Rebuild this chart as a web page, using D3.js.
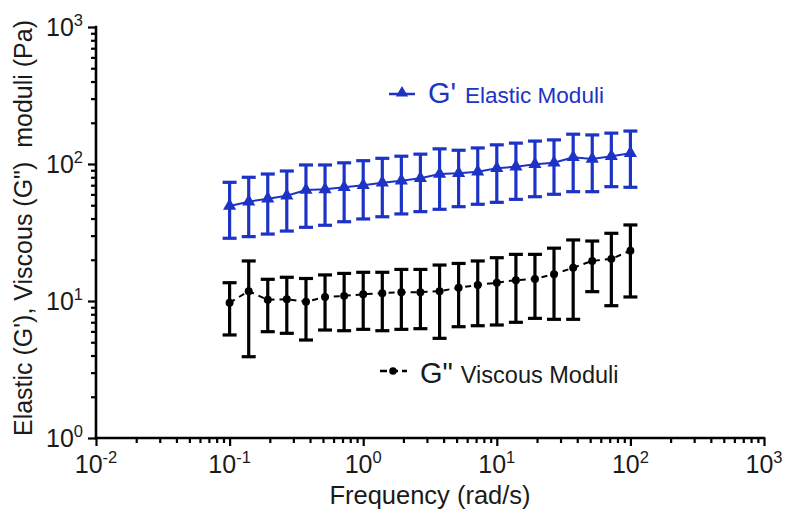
<!DOCTYPE html>
<html>
<head>
<meta charset="utf-8">
<script src="https://cdn.jsdelivr.net/npm/d3@7"></script>
<style>
html,body{margin:0;padding:0;background:#fff;}
svg{display:block;font-family:"Liberation Sans",Arial,sans-serif;}
</style>
</head>
<body>
<svg id="chart" width="787" height="517"></svg>
<script>
// ---- data ----
const frequency = [0.1,0.139,0.193,0.268,0.373,0.518,0.720,1.0,1.39,1.93,2.68,3.73,5.18,7.20,10,13.9,19.3,26.8,37.3,51.8,72.0,100];
const gElastic = [49.4,53.1,55.8,58.7,64.6,65.3,67.6,69.9,73.1,75.5,78.7,84.5,85.5,87.9,93,95.6,99.5,102,112,109,114,120];
const gElasticUpper = [73.5,80,84.5,88.9,98.4,98.4,102,105.7,110,114,118,129,126,131,138,142,147,150,165,163,168,174];
const gElasticLower = [28.7,29.5,30.8,32.4,34.5,35.7,37.9,39.7,41.2,43.2,44.9,46.7,48.8,50.8,52.5,55.2,57.7,60.1,62.8,62.8,68.3,67.6];
const gViscous = [9.72,11.8,10.2,10.3,9.88,10.7,10.9,11.2,11.4,11.6,11.6,11.8,12.5,13.1,13.6,14.2,14.5,15.7,17.5,19.6,20.3,23.3];
const gViscousUpper = [13.6,19.6,14.4,14.9,14.6,15.5,15.9,16.2,16.2,17.0,17.0,18.3,18.8,19.6,20.7,21.9,21.9,24.3,27.9,27.4,31.2,35.9];
const gViscousLower = [5.65,3.92,5.97,5.81,5.19,6.14,6.07,6.21,6.07,6.21,6.28,5.34,6.49,6.60,6.68,6.99,7.47,7.35,7.35,11.7,9.24,10.7];
const xTickExps = [-2,-1,0,1,2,3];
const yTickExps = [0,1,2,3];
const xTitle = "Frequency (rad/s)";
const yTitle = "Elastic (G'), Viscous (G\")  moduli (Pa)";
const legendElastic = ["G'", "Elastic Moduli"];
const legendViscous = ["G\"", "Viscous Moduli"];

(function(){
// ---- layout ----
const blue = "#1d33c6";
const pL = 96, pT = 27, pR = 764, pB = 438;
const svg = d3.select("#chart");
const x = d3.scaleLog().domain([1e-2, 1e3]).range([pL, pR]);
const y = d3.scaleLog().domain([1, 1e3]).range([pB, pT]);

function minors(lo, hi) {
  const out = [];
  for (let e = lo; e < hi; e++) for (let m = 2; m <= 9; m++) out.push(m * Math.pow(10, e));
  return out;
}

// axes
const gx = svg.append("g").attr("transform", `translate(0,${pB})`);
gx.call(d3.axisBottom(x).tickValues(minors(-2,3)).tickSize(5).tickFormat(""));
gx.append("g").call(d3.axisBottom(x).tickValues(xTickExps.map(e=>Math.pow(10,e))).tickSize(8).tickFormat(""));
gx.selectAll(".domain").remove();
gx.append("line").attr("x1", pL-1.3).attr("x2", pR+1.3).attr("stroke","#000").attr("stroke-width",2.6);
gx.selectAll(".tick line").attr("stroke","#000").attr("stroke-width",2.2);

const gy = svg.append("g").attr("transform", `translate(${pL},0)`);
gy.call(d3.axisLeft(y).tickValues(minors(0,3)).tickSize(5).tickFormat(""));
gy.append("g").call(d3.axisLeft(y).tickValues(yTickExps.map(e=>Math.pow(10,e))).tickSize(8).tickFormat(""));
gy.selectAll(".domain").remove();
gy.append("line").attr("y1", pT-1.3).attr("y2", pB+1.3).attr("stroke","#000").attr("stroke-width",2.6);
gy.selectAll(".tick line").attr("stroke","#000").attr("stroke-width",2.2);

// tick labels
const xl = svg.append("g").selectAll("text").data(xTickExps).join("text")
  .attr("x", d => x(Math.pow(10,d))).attr("y", 473)
  .attr("text-anchor","middle").attr("font-size",25).attr("fill","#1a1a1a");
xl.append("tspan").text("10");
xl.append("tspan").attr("font-size",16.5).attr("dy",-10).text(d=>d);

const yl = svg.append("g").selectAll("text").data(yTickExps).join("text")
  .attr("x", 83).attr("y", d => y(Math.pow(10,d)) + 9)
  .attr("text-anchor","end").attr("font-size",25).attr("fill","#1a1a1a");
yl.append("tspan").text("10");
yl.append("tspan").attr("font-size",16.5).attr("dy",-10).text(d=>d);

// titles
svg.append("text").attr("x",(pL+pR)/2).attr("y",504).attr("text-anchor","middle")
  .attr("font-size",25.5).attr("fill","#1a1a1a").text(xTitle);
svg.append("text").attr("transform",`translate(32,228) rotate(-90)`)
  .attr("text-anchor","middle").attr("font-size",25).attr("fill","#1a1a1a").style("white-space","pre").text(yTitle);

// ---- series ----
function drawSeries(vals, up, lo, color, dashed, marker) {
  const g = svg.append("g");
  const pts = frequency.map((f,i)=>({f, v:vals[i], u:up[i], l:lo[i]}));
  g.append("path").datum(pts)
    .attr("d", d3.line().x(d=>x(d.f)).y(d=>y(d.v)))
    .attr("fill","none").attr("stroke",color).attr("stroke-width",2)
    .attr("stroke-dasharray", dashed ? "6,5" : null);
  const eb = g.selectAll(".eb").data(pts).join("g");
  eb.append("line").attr("x1",d=>x(d.f)).attr("x2",d=>x(d.f)).attr("y1",d=>y(d.u)).attr("y2",d=>y(d.l))
    .attr("stroke",color).attr("stroke-width",3.2);
  eb.append("line").attr("x1",d=>x(d.f)-7).attr("x2",d=>x(d.f)+7).attr("y1",d=>y(d.u)).attr("y2",d=>y(d.u))
    .attr("stroke",color).attr("stroke-width",3.2);
  eb.append("line").attr("x1",d=>x(d.f)-7).attr("x2",d=>x(d.f)+7).attr("y1",d=>y(d.l)).attr("y2",d=>y(d.l))
    .attr("stroke",color).attr("stroke-width",3.2);
  g.selectAll(".mk").data(pts).join("path")
    .attr("transform",d=>`translate(${x(d.f)},${y(d.v)})`)
    .attr("d", d3.symbol().type(marker).size(marker===d3.symbolTriangle?75:50)())
    .attr("fill",color);
}
drawSeries(gElastic, gElasticUpper, gElasticLower, blue, false, d3.symbolTriangle);
drawSeries(gViscous, gViscousUpper, gViscousLower, "#000", true, d3.symbolCircle);

// ---- legends ----
const lg1 = svg.append("g");
lg1.append("line").attr("x1",389).attr("x2",415).attr("y1",94).attr("y2",94).attr("stroke",blue).attr("stroke-width",2.5);
lg1.append("path").attr("transform","translate(402,93)").attr("d",d3.symbol().type(d3.symbolTriangle).size(65)()).attr("fill",blue);
const t1 = lg1.append("text").attr("x",428).attr("y",103).attr("fill",blue);
t1.append("tspan").attr("font-size",29).text(legendElastic[0]);
t1.append("tspan").attr("font-size",22.5).attr("dx",9).text(legendElastic[1]);

const lg2 = svg.append("g");
lg2.append("line").attr("x1",380).attr("x2",407).attr("y1",371).attr("y2",371).attr("stroke","#000").attr("stroke-width",2.5).attr("stroke-dasharray","7,4");
lg2.append("circle").attr("cx",393).attr("cy",371).attr("r",3.8).attr("fill","#000");
const t2 = lg2.append("text").attr("x",420).attr("y",383).attr("fill","#1a1a1a");
t2.append("tspan").attr("font-size",29).text(legendViscous[0]);
t2.append("tspan").attr("font-size",23.5).attr("dx",8).text(legendViscous[1]);
})();
</script>
</body>
</html>
